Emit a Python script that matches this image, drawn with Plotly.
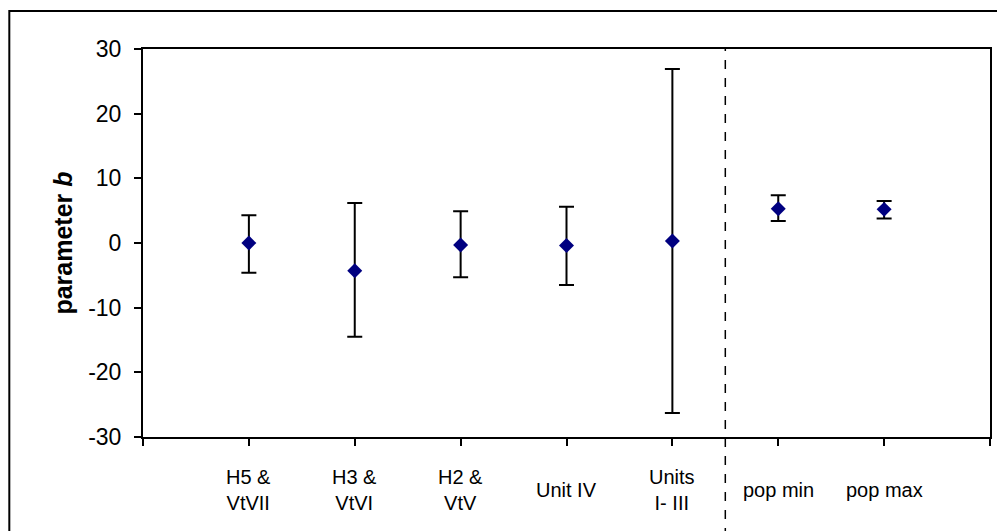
import plotly.graph_objects as go

# Data
positions = [1, 2, 3, 4, 5, 6, 7]
labels = ["H5 &<br>VtVII", "H3 &<br>VtVI", "H2 &<br>VtV", "Unit IV", "Units<br>I- III", "pop min", "pop max"]
values = [0.0, -4.3, -0.3, -0.4, 0.3, 5.3, 5.2]
err_plus = [4.3, 10.5, 5.2, 6.0, 26.6, 2.1, 1.3]
err_minus = [4.6, 10.2, 5.0, 6.1, 26.6, 1.9, 1.4]
y_ticks = [-30, -20, -10, 0, 10, 20, 30]
y_ticktext = ["-30", "-20", "-10", "0", "10", "20", "30"]
x_ticks = [0, 1, 2, 3, 4, 5, 6, 7, 8]
divider_x = 5.5

FONT = "Liberation Sans, Arial"

fig = go.Figure()
fig.add_trace(go.Scatter(
    x=positions, y=values, mode="markers",
    marker=dict(symbol="diamond", size=11.5, color="#000080"),
    error_y=dict(type="data", symmetric=False, array=err_plus, arrayminus=err_minus,
                 color="black", thickness=2, width=7.5),
    showlegend=False, cliponaxis=False,
))

# x labels as annotations, vertically centred like the original
for xp, lab in zip(positions, labels):
    fig.add_annotation(x=xp, xref="x", y=(437 - 490) / 388, yref="paper", text=lab,
                       showarrow=False, yanchor="middle", xanchor="center",
                       font=dict(family=FONT, size=20, color="black"),
                       align="center")

# outer border
fig.add_shape(type="rect", xref="paper", yref="paper",
              x0=(9 - 143) / 849, x1=1.5, y0=-1, y1=1 + (49 - 11) / 388,
              line=dict(color="black", width=2), fillcolor="rgba(0,0,0,0)", layer="below")
# dashed divider
fig.add_shape(type="line", xref="x", yref="paper", x0=divider_x, x1=divider_x,
              y0=-1, y1=1, line=dict(color="black", width=1.5, dash="dash"))

fig.update_layout(
    width=997, height=531,
    margin=dict(l=143, r=5, t=49, b=94),
    paper_bgcolor="white", plot_bgcolor="white",
    font=dict(family=FONT, color="black"),
    xaxis=dict(range=[0, 8], tickvals=x_ticks, ticktext=[""] * len(x_ticks),
               showgrid=False, zeroline=False, showline=True, linecolor="black",
               linewidth=2, mirror=True, ticks="outside", ticklen=7, tickwidth=2,
               tickcolor="black"),
    yaxis=dict(range=[-30, 30], tickvals=y_ticks, ticktext=y_ticktext,
               showgrid=False, zeroline=False,
               showline=True, linecolor="black", linewidth=2, mirror=True,
               ticks="outside", ticklen=7, tickwidth=2, tickcolor="black",
               ticklabelstandoff=8,
               tickfont=dict(size=23, family=FONT),
               title=dict(text="<b>parameter <i>b</i></b>", standoff=8,
                          font=dict(size=25, family=FONT))),
)

fig.write_html("out.html")
